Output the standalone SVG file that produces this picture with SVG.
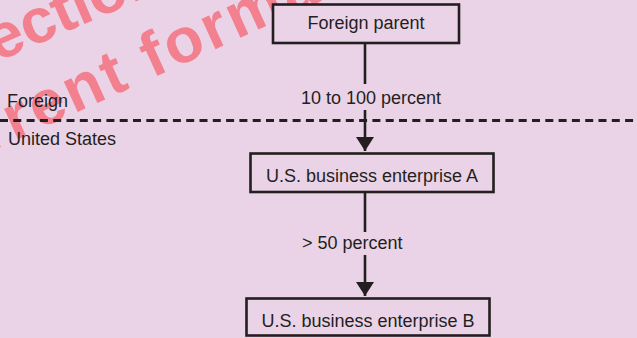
<svg xmlns="http://www.w3.org/2000/svg" width="637" height="338" viewBox="0 0 637 338">
<defs>
<style>
.box{fill:#ebd3e7;stroke:#231f20;stroke-width:2.6}
.lbl{font-family:"Liberation Sans",Arial,sans-serif;font-size:18px;fill:#231f20}
.wm{font-family:"Liberation Sans",Arial,sans-serif;font-size:63px;font-weight:bold;fill:#f2808f}
.conn{stroke:#231f20;stroke-width:2.6;fill:none}
</style>
<marker id="ah" viewBox="0 0 14 18" refX="14" refY="9" markerWidth="14" markerHeight="18" markerUnits="userSpaceOnUse" orient="auto">
<path d="M0,0 L14,9 L0,18 Z" fill="#231f20"/>
</marker>
</defs>
<rect x="0" y="0" width="637" height="338" fill="#ebd3e7"/>
<g id="watermark">
<text class="wm" x="-108.5" transform="translate(-3,62) rotate(-23.5)">collection</text>
<text class="wm" x="-107" letter-spacing="3" transform="translate(14,141) rotate(-24.5)">current format</text>
</g>
<g id="boundary">
<line x1="0" y1="120.5" x2="637" y2="120.5" stroke="#231f20" stroke-width="2.8" stroke-dasharray="8 5.3"/>
<text class="lbl" x="7" y="107">Foreign</text>
<text class="lbl" x="8" y="145">United States</text>
</g>
<g id="connectors">
<line class="conn" x1="365" y1="43" x2="365" y2="84"/>
<line class="conn" x1="365" y1="110" x2="365" y2="151" marker-end="url(#ah)"/>
<text class="lbl" x="301" y="104">10 to 100 percent</text>
<line class="conn" x1="365" y1="192" x2="365" y2="232"/>
<line class="conn" x1="365" y1="255" x2="365" y2="296" marker-end="url(#ah)"/>
<text class="lbl" x="302" y="249">&gt; 50 percent</text>
</g>
<g id="foreign-parent">
<rect class="box" x="273" y="4.5" width="186" height="38.5"/>
<text class="lbl" x="366" y="29" text-anchor="middle">Foreign parent</text>
</g>
<g id="enterprise-a">
<rect class="box" x="250.5" y="153.5" width="243" height="38.5"/>
<text class="lbl" x="372" y="182" text-anchor="middle">U.S. business enterprise A</text>
</g>
<g id="enterprise-b">
<rect class="box" x="246.5" y="298.5" width="243" height="37"/>
<text class="lbl" x="368" y="327" text-anchor="middle">U.S. business enterprise B</text>
</g>
</svg>
